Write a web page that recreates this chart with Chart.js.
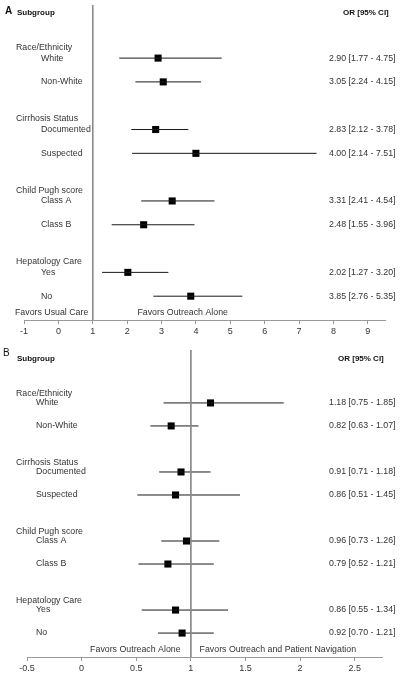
<!DOCTYPE html>
<html><head><meta charset="utf-8">
<script src="https://cdn.jsdelivr.net/npm/chart.js@4/dist/chart.umd.min.js"></script>
<style>
html,body{margin:0;padding:0;background:#fff;width:400px;height:679px;overflow:hidden}
#wa{position:absolute;left:0;top:0;width:400px;height:335px}
#wb{position:absolute;left:0;top:335px;width:400px;height:344px}
canvas{display:block}
</style></head><body>
<div id="wa"><canvas id="ca" width="400" height="335"></canvas></div>
<div id="wb"><canvas id="cb" width="400" height="344"></canvas></div>
<script>
// ---- data ----
const groups = ['Race/Ethnicity', 'Cirrhosis Status', 'Child Pugh score', 'Hepatology Care'];
const subgroups = ['White', 'Non-White', 'Documented', 'Suspected', 'Class A', 'Class B', 'Yes', 'No'];
const orA = [2.90, 3.05, 2.83, 4.00, 3.31, 2.48, 2.02, 3.85];
const loA = [1.77, 2.24, 2.12, 2.14, 2.41, 1.55, 1.27, 2.76];
const hiA = [4.75, 4.15, 3.78, 7.51, 4.54, 3.96, 3.20, 5.35];
const orB = [1.18, 0.82, 0.91, 0.86, 0.96, 0.79, 0.86, 0.92];
const loB = [0.75, 0.63, 0.71, 0.51, 0.73, 0.52, 0.55, 0.70];
const hiB = [1.85, 1.07, 1.18, 1.45, 1.26, 1.21, 1.34, 1.21];
const ticksA = [-1, 0, 1, 2, 3, 4, 5, 6, 7, 8, 9];
const ticksB = [-0.5, 0, 0.5, 1, 1.5, 2, 2.5];
const favorsA = ['Favors Usual Care', 'Favors Outreach Alone'];
const favorsB = ['Favors Outreach Alone', 'Favors Outreach and Patient Navigation'];

const FONT = "'Liberation Sans', Arial, sans-serif";
const TXT = '#333';
Chart.defaults.font.family = FONT;

function rowOf(i) { return Math.floor(i / 2) * 3 + (i % 2); }
function fmt(v) { return v.toFixed(2); }

function makeForest(id, c) {
  const datasets = [];
  datasets.push({
    data: [{x: 1, y: c.yMin}, {x: 1, y: c.yMax}],
    showLine: true, borderColor: '#8a8a8a', borderWidth: 1, pointRadius: 0
  });
  c.lo.forEach((lo, i) => {
    datasets.push({
      data: [{x: lo, y: rowOf(i)}, {x: c.hi[i], y: rowOf(i)}],
      showLine: true, borderColor: '#1a1a1a', borderWidth: 1, pointRadius: 0
    });
  });
  datasets.push({
    data: c.or.map((v, i) => ({x: v, y: rowOf(i)})),
    showLine: false, pointStyle: 'rect', pointRadius: 5,
    backgroundColor: '#000', borderColor: '#000', borderWidth: 0
  });

  const textPlugin = {
    id: 'txt' + id,
    afterDraw(chart) {
      const ctx = chart.ctx, ys = chart.scales.y, xs = chart.scales.x;
      const py = v => ys.getPixelForValue(v);
      ctx.save();
      ctx.fillStyle = TXT;
      ctx.textBaseline = 'middle';
      ctx.textAlign = 'left';
      ctx.font = c.letterFont + ' ' + FONT;
      ctx.fillStyle = '#111';
      ctx.fillText(c.letter, c.letterX, py(c.letterRow));
      ctx.font = 'bold 8px ' + FONT;
      ctx.fillText('Subgroup', 17, py(c.headRow));
      ctx.fillText('OR [95% CI]', c.orHeadX, py(c.headRow));
      ctx.fillStyle = TXT;
      ctx.font = '8.8px ' + FONT;
      groups.forEach((g, gi) => {
        ctx.fillText(g, 16, py(gi * 3 + c.groupOff));
      });
      subgroups.forEach((s, i) => {
        const r = rowOf(i);
        ctx.fillText(s, c.subX, py(r));
        ctx.fillText(fmt(c.or[i]) + ' [' + fmt(c.lo[i]) + ' - ' + fmt(c.hi[i]) + ']', 329, py(r));
      });
      const fy = py(10.7);
      ctx.textAlign = 'right';
      ctx.fillText(c.favors[0], xs.getPixelForValue(c.favL), fy);
      ctx.textAlign = 'left';
      ctx.fillText(c.favors[1], xs.getPixelForValue(c.favR), fy);
      ctx.restore();
    }
  };

  return new Chart(document.getElementById(id), {
    type: 'scatter',
    data: {datasets},
    options: {
      responsive: false,
      animation: false,
      events: [],
      layout: {padding: {left: c.left, right: 400 - c.right, top: c.top, bottom: c.bottomPad}},
      plugins: {legend: {display: false}, tooltip: {enabled: false}},
      scales: {
        x: {
          type: 'linear', min: c.xMin, max: c.xMax,
          afterBuildTicks: s => { s.ticks = c.ticks.map(v => ({value: v})); },
          afterFit: s => { s.height = c.axisH; },
          grid: {drawOnChartArea: false, drawTicks: true, tickLength: 4, color: '#999'},
          border: {color: '#999', width: 1},
          ticks: {font: {size: 9, family: FONT}, color: TXT, padding: 2, maxRotation: 0, autoSkip: false,
                  callback: v => String(v)}
        },
        y: {type: 'linear', reverse: true, min: c.yMin, max: c.yMax, display: false}
      }
    },
    plugins: [textPlugin]
  });
}

makeForest('ca', {
  or: orA, lo: loA, hi: hiA, ticks: ticksA, favors: favorsA,
  xMin: -1, xMax: 9.5, yMin: -2.23, yMax: 11.0,
  left: 24, right: 385, top: 5, bottomPad: 0, axisH: 15,
  letter: 'A', letterFont: 'bold 10px', letterX: 5, letterRow: -1.97,
  headRow: -1.89, orHeadX: 343, groupOff: -0.45, subX: 41,
  favL: 0.87, favR: 2.3
});

makeForest('cb', {
  or: orB, lo: loB, hi: hiB, ticks: ticksB, favors: favorsB,
  xMin: -0.5, xMax: 2.75, yMin: -2.30, yMax: 11.04,
  left: 27, right: 382, top: 15, bottomPad: 0, axisH: 22,
  letter: 'B', letterFont: '10px', letterX: 3, letterRow: -2.17,
  headRow: -1.91, orHeadX: 338, groupOff: -0.4, subX: 36,
  favL: 0.906, favR: 1.08
});
</script>
</body></html>
